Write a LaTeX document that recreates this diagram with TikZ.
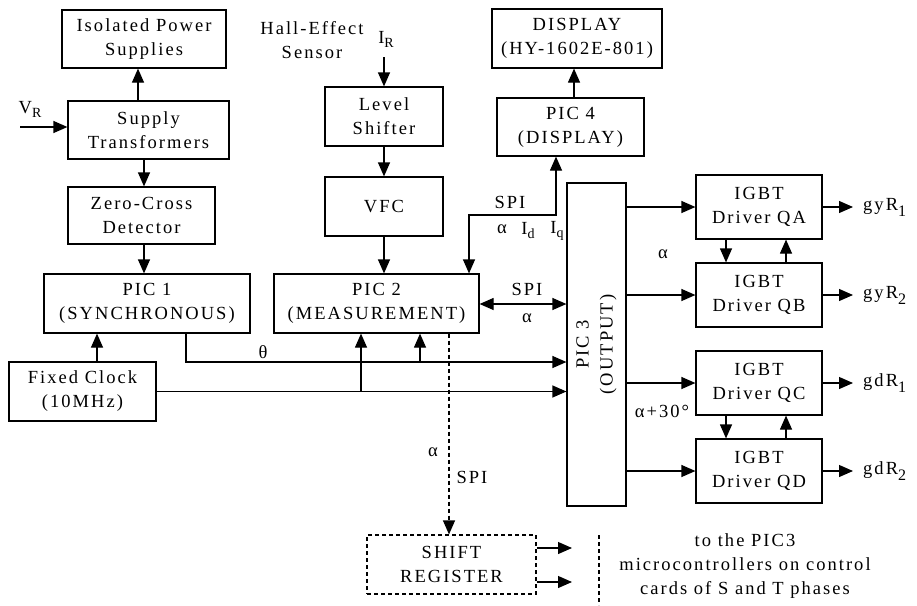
\documentclass[tikz,border=0pt]{standalone}
\usepackage{fontspec}
\setmainfont{Liberation Serif}[LetterSpace=11]
\usetikzlibrary{arrows.meta}
\newcommand\dnsub[1]{\raisebox{-4pt}{\fontsize{14}{14}\selectfont #1}}
\newcommand\gsub[1]{\raisebox{-6pt}{\fontsize{16}{16}\selectfont #1}}
\begin{document}
\begin{tikzpicture}[x=1pt,y=-1pt,
  font=\fontsize{18.5}{24}\selectfont,
  box/.style={draw, line width=1.2pt, align=center, inner sep=0pt},
  dbox/.style={box, dash pattern=on 4pt off 3pt},
  arr/.style={line width=1.2pt, -{Triangle[length=14pt,width=12pt]}},
  darr/.style={line width=1.2pt, {Triangle[length=14pt,width=12pt]}-{Triangle[length=14pt,width=12pt]}},
  ln/.style={line width=1.2pt},
  lbl/.style={inner sep=0pt, align=center}]
\useasboundingbox (0,0) rectangle (917,605);

% boxes
\node[box, minimum width=164pt, minimum height=58pt] (ips) at (144,39) {Isolated Power\\Supplies};
\node[box, minimum width=161pt, minimum height=58pt] (st) at (148.5,130) {Supply\\Transformers};
\node[box, minimum width=147pt, minimum height=57pt] (zcd) at (141.5,215.5) {Zero-Cross\\Detector};
\node[box, minimum width=206pt, minimum height=59pt] (pic1) at (147,303.5) {PIC 1\\(SYNCHRONOUS)};
\node[box, minimum width=147pt, minimum height=59pt] (clk) at (82.5,391.5) {Fixed Clock\\(10MHz)};
\node[box, minimum width=118pt, minimum height=59pt] (ls) at (384,116.5) {Level\\Shifter};
\node[box, minimum width=118pt, minimum height=59pt] (vfc) at (384,206.5) {VFC};
\node[box, minimum width=205pt, minimum height=59pt] (pic2) at (376.5,303.5) {PIC 2\\(MEASUREMENT)};
\node[box, minimum width=170pt, minimum height=59pt] (disp) at (577,38.5) {DISPLAY\\(HY-1602E-801)};
\node[box, minimum width=147pt, minimum height=58pt] (pic4) at (570.5,127) {PIC 4\\(DISPLAY)};
\node[box, minimum width=59pt, minimum height=323pt] (pic3) at (596.5,344.5) {};
\node[lbl, rotate=90] (pic3t) at (pic3.center) {PIC 3\\(OUTPUT)};
\node[box, minimum width=126pt, minimum height=64pt] (qa) at (759,207) {IGBT\\Driver QA};
\node[box, minimum width=126pt, minimum height=64pt] (qb) at (759,295) {IGBT\\Driver QB};
\node[box, minimum width=126pt, minimum height=64pt] (qc) at (759,383) {IGBT\\Driver QC};
\node[box, minimum width=126pt, minimum height=64pt] (qd) at (759,471) {IGBT\\Driver QD};
\node[dbox, minimum width=169pt, minimum height=59pt] (sr) at (451.5,564.5) {SHIFT\\REGISTER};

% helper coordinates
\coordinate (vr) at (20,127);
\coordinate (c138) at (138,0);
\coordinate (c144) at (144,0);
\coordinate (c97) at (97,0);
\coordinate (th) at (186,362);
\coordinate (b420) at (420,362);
\coordinate (b361) at (361,0);
\coordinate (ir) at (384,57);
\coordinate (s1) at (469,215);
\coordinate (s2) at (556,215);
\coordinate (c574) at (574,0);
\coordinate (y304) at (0,304);
\coordinate (c726) at (726,0);
\coordinate (c786) at (786,0);
\coordinate (c449) at (449,0);
\coordinate (oa) at (853,207);
\coordinate (ob) at (853,295);
\coordinate (oc) at (853,383);
\coordinate (od) at (853,471);
\coordinate (r1) at (572,548);
\coordinate (r2) at (572,582);
\coordinate (d1) at (599,535);
\coordinate (d2) at (599,605);

% connectors
\draw[arr] (vr) -- (vr -| st.west);
\draw[arr] (st.north -| c138) -- (ips.south -| c138);
\draw[arr] (st.south -| c144) -- (zcd.north -| c144);
\draw[arr] (zcd.south -| c144) -- (pic1.north -| c144);
\draw[arr] (clk.north -| c97) -- (pic1.south -| c97);
\draw[arr] (pic1.south -| th) -- (th) -- (th -| pic3.west);
\draw[arr] (b420) -- (pic2.south -| b420);
\draw[arr] (clk.east) -- (clk.east -| pic3.west);
\draw[arr] (clk.east -| b361) -- (pic2.south -| b361);
\draw[arr] (ir) -- (ls.north);
\draw[arr] (ls.south) -- (vfc.north);
\draw[arr] (vfc.south) -- (pic2.north -| vfc.south);
\draw[darr] (pic2.north -| s1) -- (s1) -- (s2) -- (pic4.south -| s2);
\draw[arr] (pic4.north -| c574) -- (disp.south -| c574);
\draw[darr] (pic2.east |- y304) -- (pic3.west |- y304);
\draw[arr] (pic3.east |- qa.west) -- (qa.west);
\draw[arr] (pic3.east |- qb.west) -- (qb.west);
\draw[arr] (pic3.east |- qc.west) -- (qc.west);
\draw[arr] (pic3.east |- qd.west) -- (qd.west);
\draw[arr] (qa.south -| c726) -- (qb.north -| c726);
\draw[arr] (qb.north -| c786) -- (qa.south -| c786);
\draw[arr] (qc.south -| c726) -- (qd.north -| c726);
\draw[arr] (qd.north -| c786) -- (qc.south -| c786);
\draw[arr] (qa.east) -- (oa);
\draw[arr] (qb.east) -- (ob);
\draw[arr] (qc.east) -- (oc);
\draw[arr] (qd.east) -- (od);
\draw[arr, dash pattern=on 4pt off 3pt] (pic2.south -| c449) -- (sr.north -| c449);
\draw[arr] (sr.east |- r1) -- (r1);
\draw[arr] (sr.east |- r2) -- (r2);
\draw[ln, dash pattern=on 4pt off 3pt] (d1) -- (d2);

% labels
\node[lbl] (lvr) at (30,109) {V\dnsub{R}};
\node[lbl] (lhall) at (312,40) {Hall-Effect\\Sensor};
\node[lbl] (lir) at (386,39) {I\dnsub{R}};
\node[lbl] (lth) at (263,352) {θ};
\node[lbl] (lspi1) at (510,202) {SPI};
\node[lbl] (lal) at (502,229) {α};
\node[lbl] (lid) at (528,231) {I\dnsub{d}};
\node[lbl] (liq) at (557,231) {I\dnsub{q}};
\node[lbl] (lspi2) at (527,289) {SPI};
\node[lbl] (la2) at (527,318) {α};
\node[lbl] (la3) at (663,254) {α};
\node[lbl] (la4) at (662,411) {α+30°};
\node[lbl] (la5) at (433,452) {α};
\node[lbl] (lspi3) at (472,477) {SPI};
\node[lbl, anchor=west] (ga) at (863,207) {gyR\gsub{1}};
\node[lbl, anchor=west] (gb) at (863,295) {gyR\gsub{2}};
\node[lbl, anchor=west] (gc) at (863,383) {gdR\gsub{1}};
\node[lbl, anchor=west] (gd) at (863,471) {gdR\gsub{2}};
\node[lbl] (lto) at (745,566) {to the PIC3\\microcontrollers on control\\cards of S and T phases};
\end{tikzpicture}
\end{document}
